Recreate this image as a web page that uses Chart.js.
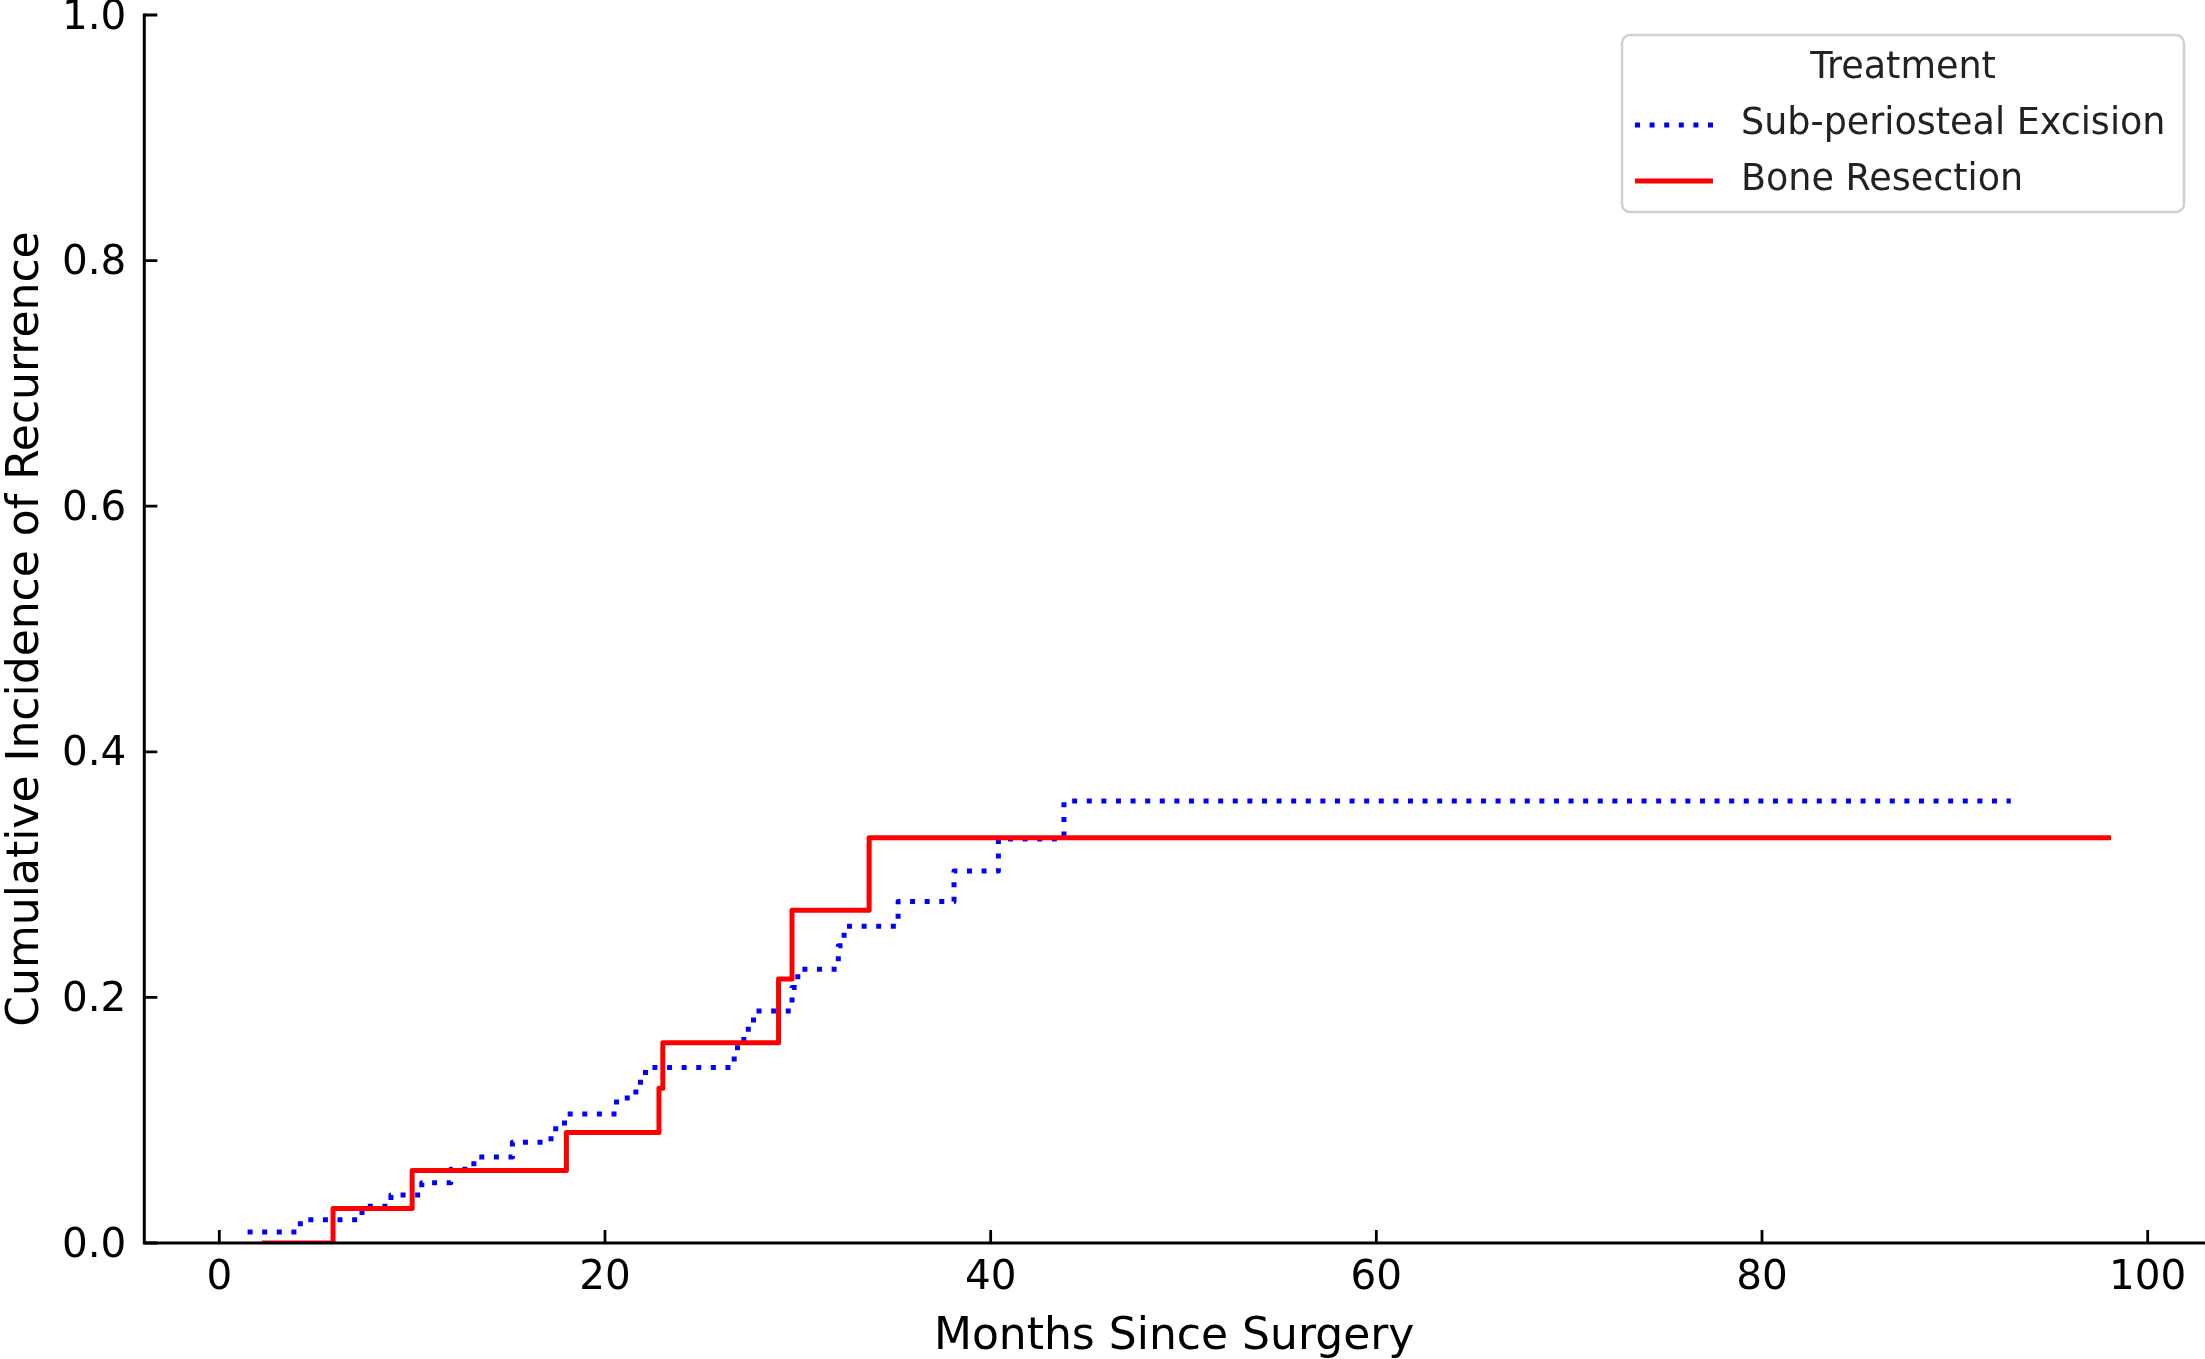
<!DOCTYPE html>
<html>
<head>
<meta charset="utf-8">
<script src="https://cdn.jsdelivr.net/npm/chart.js@4.4.1/dist/chart.umd.min.js"></script>
<style>
  html, body { margin: 0; padding: 0; background: #fff; }
  canvas { display: block; }
</style>
</head>
<body>
<canvas id="myChart" width="2205" height="1359"></canvas>
<script>
// months since surgery at each step, and cumulative incidence from that point on
var subMonths = [1.0, 4.2, 7.4, 8.9, 10.5, 12.0, 13.2, 15.2, 17.2, 17.9, 20.6, 21.6, 22.1, 26.7, 27.2, 27.7, 29.7, 30.0, 32.1, 32.4, 35.2, 38.1, 40.4, 43.8, 92.9];
var subIncidence = [0.009, 0.019, 0.030, 0.039, 0.049, 0.060, 0.070, 0.082, 0.093, 0.105, 0.118, 0.131, 0.143, 0.159, 0.174, 0.189, 0.208, 0.223, 0.242, 0.258, 0.278, 0.303, 0.329, 0.360, 0.360];

var boneMonths = [2.2, 5.9, 10.0, 18.0, 22.8, 23.0, 29.0, 29.7, 33.7, 98.1];
var boneIncidence = [0.0, 0.028, 0.059, 0.090, 0.126, 0.163, 0.215, 0.271, 0.330, 0.330];

var xTicks = [0, 20, 40, 60, 80, 100];
var xTickLabels = ['0', '20', '40', '60', '80', '100'];
var yTicks = [0, 0.2, 0.4, 0.6, 0.8, 1.0];
var yTickLabels = ['0.0', '0.2', '0.4', '0.6', '0.8', '1.0'];

var seriesNames = ['Sub-periosteal Excision', 'Bone Resection'];
var legendTitle = 'Treatment';

function toPoints(xs, ys) {
    return xs.map(function (x, i) { return { x: x, y: ys[i] }; });
}

// matplotlib style axes: spines drawn over the lines, ticks pointing inwards
var mplAxes = {
    id: 'mplAxes',
    afterDatasetsDraw: function (chart) {
        var ctx = chart.ctx, a = chart.chartArea;
        var xs = chart.scales.x, ys = chart.scales.y;
        ctx.save();
        ctx.strokeStyle = '#000';
        ctx.lineWidth = 2.8;
        ctx.beginPath();
        xs.ticks.forEach(function (t) {
            var px = xs.getPixelForValue(t.value);
            ctx.moveTo(px, a.bottom);
            ctx.lineTo(px, a.bottom - 13);
        });
        ys.ticks.forEach(function (t) {
            var py = ys.getPixelForValue(t.value);
            ctx.moveTo(a.left, py);
            ctx.lineTo(a.left + 13, py);
        });
        ctx.stroke();
        ctx.lineWidth = 3;
        ctx.lineCap = 'square';
        ctx.beginPath();
        ctx.moveTo(a.left, a.top);
        ctx.lineTo(a.left, a.bottom);
        ctx.lineTo(a.right, a.bottom);
        ctx.stroke();
        ctx.restore();
    }
};

var boxLegend = {
    id: 'boxLegend',
    afterDraw: function (chart) {
        var ctx = chart.ctx;
        var bx = 1622, by = 35, bw = 562, bh = 177, r = 8;
        ctx.save();
        ctx.beginPath();
        ctx.roundRect(bx, by, bw, bh, r);
        ctx.fillStyle = 'rgba(255,255,255,0.8)';
        ctx.fill();
        ctx.strokeStyle = '#d0d0d0';
        ctx.lineWidth = 2.5;
        ctx.stroke();

        ctx.fillStyle = '#222';
        ctx.font = '36.5px "DejaVu Sans"';
        ctx.textBaseline = 'middle';
        ctx.textAlign = 'center';
        ctx.fillText(legendTitle, bx + bw / 2, by + 34);

        ctx.textAlign = 'left';
        chart.data.datasets.forEach(function (ds, i) {
            var rowY = by + 90 + i * 56;
            ctx.beginPath();
            ctx.strokeStyle = ds.borderColor;
            ctx.lineWidth = ds.borderWidth;
            ctx.setLineDash(ds.borderDash || []);
            ctx.lineCap = 'butt';
            ctx.moveTo(bx + 13, rowY);
            ctx.lineTo(bx + 91, rowY);
            ctx.stroke();
            ctx.setLineDash([]);
            ctx.fillStyle = '#222';
            ctx.fillText(ds.label, bx + 119, rowY);
        });
        ctx.restore();
    }
};

document.addEventListener('DOMContentLoaded', function () {
    var ctx = document.getElementById('myChart').getContext('2d');
    var tickFont = { family: 'DejaVu Sans', size: 40.5 };
    var titleFont = { family: 'DejaVu Sans', size: 44 };

    new Chart(ctx, {
        type: 'line',
        data: {
            datasets: [{
                label: seriesNames[0],
                data: toPoints(subMonths, subIncidence),
                borderColor: '#0000ff',
                borderWidth: 5,
                borderDash: [5, 9.6],
                borderDashOffset: 5.6,
                borderCapStyle: 'butt',
                borderJoinStyle: 'round',
                stepped: 'before',
                pointRadius: 0,
                fill: false,
                order: 1,
                clip: { left: 5, right: 5, top: 5, bottom: 0 }
            }, {
                label: seriesNames[1],
                data: toPoints(boneMonths, boneIncidence),
                borderColor: '#ff0000',
                borderWidth: 5,
                borderJoinStyle: 'round',
                stepped: 'before',
                pointRadius: 0,
                fill: false,
                order: 0,
                clip: { left: 5, right: 5, top: 5, bottom: 0 }
            }]
        },
        options: {
            responsive: false,
            animation: false,
            layout: { padding: { top: 15, right: 1, left: 0, bottom: 0 } },
            plugins: {
                legend: { display: false },
                tooltip: { enabled: false }
            },
            scales: {
                x: {
                    type: 'linear',
                    min: -3.89,
                    max: 102.92,
                    afterBuildTicks: function (scale) {
                        scale.ticks = xTicks.map(function (v) { return { value: v }; });
                    },
                    afterFit: function (scale) {
                        scale.height = 116;
                        scale.paddingLeft = 0;
                        scale.paddingRight = 0;
                    },
                    grid: { display: false, drawTicks: false },
                    border: { display: false },
                    ticks: {
                        autoSkip: false,
                        maxRotation: 0,
                        padding: 11,
                        color: '#000',
                        font: tickFont,
                        callback: function (v, i) { return xTickLabels[i]; }
                    },
                    title: {
                        display: true,
                        text: 'Months Since Surgery',
                        color: '#000',
                        font: titleFont,
                        padding: { top: 2, bottom: -5 }
                    }
                },
                y: {
                    type: 'linear',
                    min: 0,
                    max: 1,
                    afterBuildTicks: function (scale) {
                        scale.ticks = yTicks.map(function (v) { return { value: v }; });
                    },
                    afterFit: function (scale) {
                        scale.width = 144.3;
                        scale.paddingTop = 0;
                        scale.paddingBottom = 0;
                    },
                    grid: { display: false, drawTicks: false },
                    border: { display: false },
                    ticks: {
                        autoSkip: false,
                        padding: 18,
                        labelOffset: 3,
                        color: '#000',
                        font: tickFont,
                        callback: function (v, i) { return yTickLabels[i]; }
                    },
                    title: {
                        display: true,
                        text: 'Cumulative Incidence of Recurrence',
                        color: '#000',
                        font: titleFont,
                        padding: { top: 0, bottom: 0 }
                    }
                }
            }
        },
        plugins: [mplAxes, boxLegend]
    });
});
</script>
</body>
</html>
